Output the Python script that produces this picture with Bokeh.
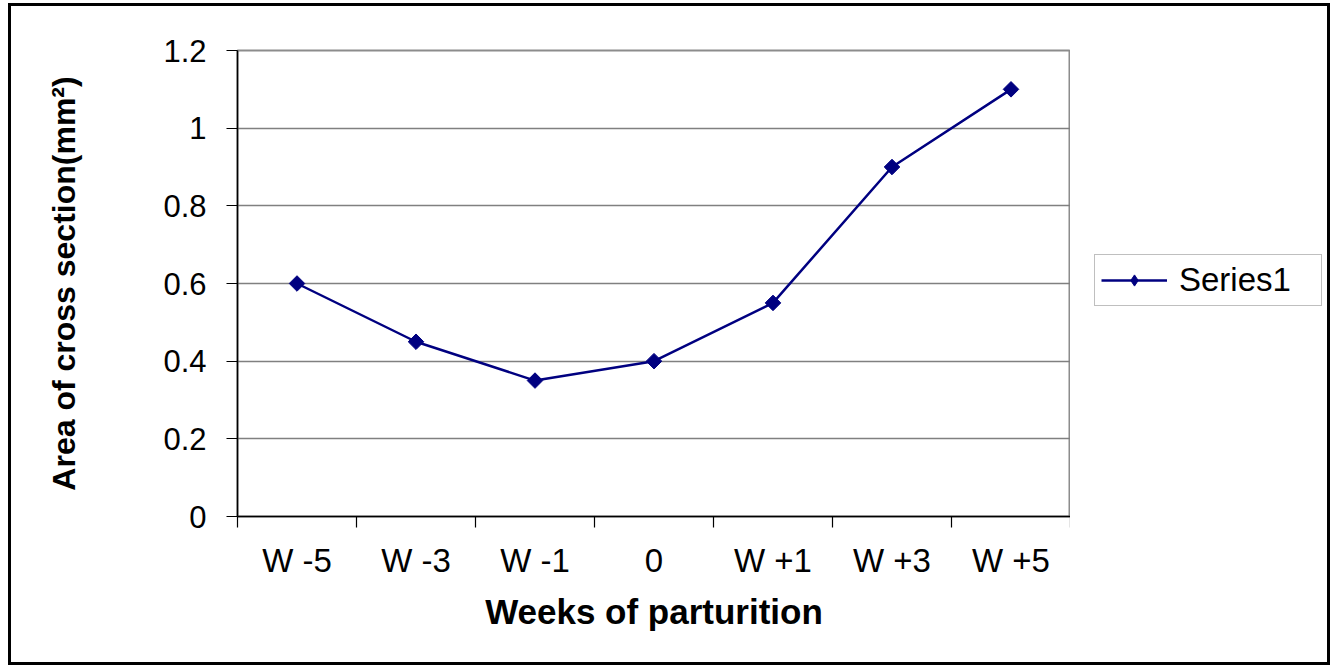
import math
from bokeh.plotting import figure
from bokeh.layouts import row
from bokeh.models import (Range1d, FixedTicker, Legend, LegendItem)
from bokeh.embed import file_html
from bokeh.resources import INLINE

categories = ["W -5", "W -3", "W -1", "0", "W +1", "W +3", "W +5"]
values = [0.6, 0.45, 0.35, 0.4, 0.55, 0.9, 1.1]
y_ticks = [0, 0.2, 0.4, 0.6, 0.8, 1.0, 1.2]
y_tick_labels = ["0", "0.2", "0.4", "0.6", "0.8", "1", "1.2"]
series_name = "Series1"

FONT = "Liberation Sans"
NAVY = "#000080"
xs = [i + 0.5 for i in range(len(categories))]

H = 662
FL, FT, FW, FH = 229, 47, 833, 466
W1 = FL + FW
W2 = 260

p = figure(width=W1, height=H, output_backend="svg", toolbar_location=None,
           x_range=Range1d(0, len(categories)), y_range=Range1d(0, 1.2),
           min_border_left=FL, min_border_top=FT,
           min_border_right=0, min_border_bottom=H - FT - FH)
p.background_fill_color = "white"
p.border_fill_alpha = 0
p.outline_line_color = "#8c8c8c"
p.outline_line_width = 2

# grids
p.xgrid.visible = False
p.ygrid.ticker = FixedTicker(ticks=y_ticks)
p.ygrid.grid_line_color = "#808080"
p.ygrid.grid_line_width = 1.5

# x axis
xa = p.xaxis[0]
xa.ticker = FixedTicker(ticks=xs, minor_ticks=list(range(len(categories) + 1)))
xa.major_label_overrides = {x: c for x, c in zip(xs, categories)}
xa.major_tick_out = 0
xa.major_tick_in = 0
xa.minor_tick_out = 11
xa.minor_tick_in = 0
xa.minor_tick_line_color = "black"
xa.minor_tick_line_width = 1.2
xa.axis_line_color = "black"
xa.axis_line_width = 1.5
xa.major_label_text_font = FONT
xa.major_label_text_font_size = "33px"
xa.major_label_text_color = "black"
xa.major_label_standoff = 14
xa.axis_label = "Weeks of parturition"
xa.axis_label_text_font = FONT
xa.axis_label_text_font_style = "bold"
xa.axis_label_text_font_size = "35px"
xa.axis_label_text_color = "black"
xa.axis_label_standoff = 10

# y axis
ya = p.yaxis[0]
ya.ticker = FixedTicker(ticks=y_ticks, minor_ticks=[])
ya.major_label_overrides = {t: l for t, l in zip(y_ticks, y_tick_labels)}
ya.major_tick_out = 11
ya.major_tick_in = 0
ya.major_tick_line_color = "black"
ya.major_tick_line_width = 1.2
ya.axis_line_color = "black"
ya.axis_line_width = 1.5
ya.major_label_text_font = FONT
ya.major_label_text_font_size = "31px"
ya.major_label_text_color = "black"
ya.major_label_standoff = 20
ya.axis_label = "Area of cross section(mm²)"
ya.axis_label_text_font = FONT
ya.axis_label_text_font_style = "bold"
ya.axis_label_text_font_size = "32px"
ya.axis_label_text_color = "black"
ya.axis_label_standoff = 78

# series
p.line(xs, values, line_color=NAVY, line_width=2.5)
p.scatter(xs, values, marker="square", angle=math.pi / 4, size=11,
          fill_color=NAVY, line_color=NAVY)

# legend panel (separate figure to the right of the plot area);
# the series is drawn again there but falls outside its view, so only
# the legend entry shows
q = figure(width=W2, height=H, output_backend="svg", toolbar_location=None,
           x_range=Range1d(100, 101), y_range=Range1d(100, 101),
           x_axis_location=None, y_axis_location=None,
           min_border_left=0, min_border_right=0,
           min_border_top=0, min_border_bottom=0)
q.grid.visible = False
q.outline_line_color = None
q.background_fill_alpha = 0
q.border_fill_alpha = 0
lg_line = q.line(xs, values, line_color=NAVY, line_width=2.5)
lg_mark = q.scatter(xs, values, marker="diamond", size=18,
                    fill_color=NAVY, line_color=NAVY)

legend = Legend(items=[LegendItem(label=series_name, renderers=[lg_line, lg_mark])],
                location=(24, 210))
legend.border_line_color = "#808080"
legend.border_line_width = 1.5
legend.padding = 6
legend.glyph_width = 66
legend.glyph_height = 28
legend.label_standoff = 12
legend.label_width = 136
legend.label_text_font = FONT
legend.label_text_font_size = "33px"
legend.label_text_color = "black"
legend.background_fill_color = "white"
legend.background_fill_alpha = 1
legend.margin = 0
q.add_layout(legend, "center")

layout = row(p, q, spacing=0)
layout.styles = {"outline": "3px solid black", "outline-offset": "-3px",
                 "margin-left": "8px", "margin-top": "3px"}

open("out.html", "w").write(file_html(layout, INLINE))
